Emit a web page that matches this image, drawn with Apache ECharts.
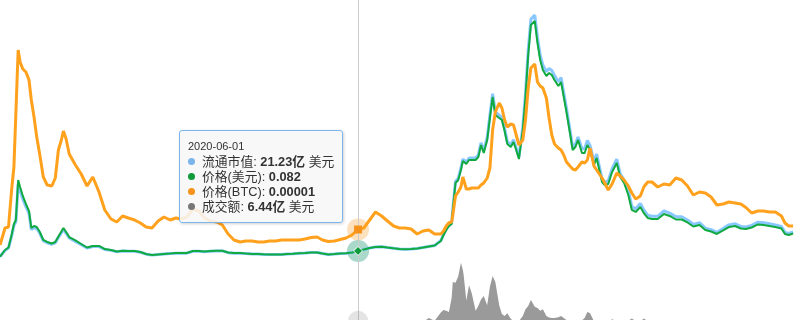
<!DOCTYPE html>
<html>
<head>
<meta charset="utf-8">
<script src="https://cdn.jsdelivr.net/npm/echarts@6/dist/echarts.min.js"></script>
<style>
html,body{margin:0;padding:0;background:#ffffff;}
#chart{width:795px;height:320px;}
</style>
</head>
<body>
<div id="chart"></div>
<script>
// ---- data ----
const dates = [
'2017-11-18','2017-12-01','2017-12-10','2017-12-18','2017-12-24','2017-12-29','2018-01-04','2018-01-09','2018-01-16','2018-01-24',
'2018-02-01','2018-02-07','2018-02-14','2018-02-21','2018-03-01','2018-03-10','2018-03-20','2018-04-01','2018-04-10','2018-04-18',
'2018-04-25','2018-05-01','2018-05-08','2018-05-16','2018-06-01','2018-06-16','2018-07-01','2018-07-16','2018-08-01','2018-08-16',
'2018-09-01','2018-09-16','2018-10-01','2018-10-16','2018-11-01','2018-11-16','2018-12-01','2018-12-16','2019-01-01','2019-01-16',
'2019-02-01','2019-02-16','2019-03-01','2019-03-16','2019-04-01','2019-04-16','2019-05-01','2019-05-16','2019-06-01','2019-06-16',
'2019-07-01','2019-07-16','2019-08-01','2019-08-16','2019-09-01','2019-09-16','2019-10-01','2019-10-16','2019-11-01','2019-11-16',
'2019-12-01','2019-12-16','2020-01-01','2020-01-16','2020-02-01','2020-02-16','2020-03-01','2020-03-16','2020-04-01','2020-04-16',
'2020-05-01','2020-05-16','2020-06-01','2020-06-16','2020-07-01','2020-07-16','2020-08-01','2020-08-16','2020-09-01','2020-09-16',
'2020-10-01','2020-10-16','2020-11-01','2020-11-16','2020-12-01','2020-12-16','2021-01-01','2021-01-08','2021-01-15','2021-01-22',
'2021-01-29','2021-02-01','2021-02-08','2021-02-15','2021-02-22','2021-02-27','2021-03-01','2021-03-08','2021-03-15','2021-03-22',
'2021-04-01','2021-04-08','2021-04-15','2021-04-22','2021-05-01','2021-05-08','2021-05-15','2021-05-22','2021-06-01','2021-06-08',
'2021-06-15','2021-06-22','2021-07-01','2021-07-08','2021-07-15','2021-07-22','2021-08-01','2021-08-08','2021-08-15','2021-08-22',
'2021-09-01','2021-09-08','2021-09-15','2021-09-22','2021-10-01','2021-10-08','2021-10-15','2021-10-22','2021-11-01','2021-11-08',
'2021-11-15','2021-11-22','2021-12-01','2021-12-08','2021-12-15','2021-12-22','2022-01-01','2022-01-08','2022-01-15','2022-01-22',
'2022-02-01','2022-02-08','2022-02-15','2022-02-22','2022-03-01','2022-03-10','2022-03-20','2022-04-01','2022-04-10','2022-04-20',
'2022-05-01','2022-05-10','2022-05-20','2022-06-01','2022-06-10','2022-06-20','2022-07-01','2022-07-16','2022-08-01','2022-08-16',
'2022-09-01','2022-09-16','2022-10-01','2022-10-16','2022-11-01','2022-11-16','2022-12-01','2022-12-16','2023-01-01','2023-01-16',
'2023-02-01','2023-02-16','2023-03-01','2023-03-16','2023-04-01','2023-04-16','2023-05-01','2023-05-16','2023-06-01','2023-06-10',
'2023-06-20','2023-07-01','2023-07-06'
];

// 流通市值 (亿 美元)
const marketCap = [
2.47,23.16,30.88,69.47,103.43,115.78,239.28,217.67,189.88,165.18,
143.57,91.08,97.26,94.17,78.73,54.03,47.86,43.23,47.86,64.84,
78.73,91.08,78.73,63.29,52.49,41.68,30.88,35.51,35.51,26.24,
23.16,18.53,21.00,20.07,20.07,16.98,10.81,7.72,9.46,11.03,
12.61,14.19,14.19,14.19,20.49,20.49,18.92,20.49,21.44,21.44,
15.76,14.19,14.19,12.61,11.03,11.03,10.09,9.46,9.46,9.46,
11.03,11.98,13.65,14.63,16.25,16.25,13.00,9.75,11.38,13.00,
13.65,16.25,21.23,26.00,30.88,34.13,35.10,32.50,29.90,27.63,
26.65,27.63,29.25,32.50,35.75,39.00,54.70,74.59,91.16,104.42,
111.05,157.46,246.97,256.91,290.06,319.90,323.21,309.95,323.21,323.21,
323.21,333.16,372.94,346.42,389.51,462.44,532.06,472.39,462.44,455.81,
419.35,376.25,366.31,382.88,356.36,326.53,422.66,532.06,671.29,774.50,
787.80,714.50,657.90,624.60,604.60,614.60,607.90,591.30,571.30,584.60,
534.70,484.70,414.70,358.10,368.10,391.40,353.20,353.20,380.25,363.35,
312.65,336.31,295.75,255.19,245.05,248.43,288.99,319.41,272.09,251.81,
217.34,165.18,158.23,175.61,154.75,137.36,133.88,133.88,151.27,144.32,
132.14,132.14,121.71,107.80,113.02,95.63,90.42,81.72,93.89,106.06,
109.54,100.85,99.11,104.33,114.76,113.02,109.54,106.06,100.85,81.72,
78.24,83.46,84.16
];

// 价格 (美元)
const priceUsd = [
0.010,0.094,0.125,0.281,0.419,0.469,0.969,0.881,0.769,0.669,
0.581,0.369,0.394,0.381,0.319,0.219,0.194,0.175,0.194,0.263,
0.319,0.369,0.319,0.256,0.213,0.169,0.125,0.144,0.144,0.106,
0.094,0.075,0.085,0.081,0.081,0.069,0.044,0.031,0.038,0.044,
0.050,0.056,0.056,0.056,0.081,0.081,0.075,0.081,0.085,0.085,
0.063,0.056,0.056,0.050,0.044,0.044,0.040,0.038,0.038,0.038,
0.044,0.048,0.053,0.056,0.063,0.063,0.050,0.038,0.044,0.050,
0.053,0.063,0.082,0.100,0.119,0.131,0.135,0.125,0.115,0.106,
0.103,0.106,0.113,0.125,0.138,0.150,0.206,0.281,0.344,0.394,
0.419,0.594,0.931,0.969,1.094,1.206,1.219,1.169,1.219,1.219,
1.219,1.256,1.406,1.306,1.469,1.744,2.006,1.781,1.744,1.719,
1.581,1.419,1.381,1.444,1.344,1.231,1.594,2.006,2.531,2.906,
2.956,2.681,2.469,2.344,2.269,2.306,2.281,2.219,2.144,2.194,
2.006,1.819,1.556,1.344,1.381,1.469,1.306,1.306,1.406,1.344,
1.156,1.244,1.094,0.944,0.906,0.919,1.069,1.181,1.006,0.931,
0.781,0.594,0.569,0.631,0.556,0.494,0.481,0.481,0.544,0.519,
0.475,0.475,0.438,0.388,0.406,0.344,0.325,0.294,0.338,0.381,
0.394,0.363,0.356,0.375,0.413,0.406,0.394,0.381,0.363,0.294,
0.281,0.300,0.303
];

// 价格 (BTC)
const priceBtc = [
0.00000375,0.00000885,0.00000915,0.00002025,0.00002715,0.00002775,0.00006225,0.00005865,0.00005655,0.00005565,
0.00005325,0.00004725,0.00004215,0.00003615,0.00003075,0.00002415,0.00002175,0.00002145,0.00002385,0.00003225,
0.00003495,0.00003795,0.00003555,0.00003105,0.00002775,0.00002505,0.00002145,0.00002415,0.00001965,0.00001425,
0.00001155,0.00001065,0.00001245,0.00001185,0.00001125,0.00001035,0.00000915,0.00000885,0.00001095,0.00001215,
0.00001125,0.00001185,0.00001155,0.00001215,0.00001455,0.00001395,0.00001185,0.00001095,0.00001065,0.00000975,
0.00000705,0.00000525,0.00000465,0.00000495,0.00000495,0.00000465,0.00000465,0.00000495,0.00000495,0.00000525,
0.00000525,0.00000525,0.00000525,0.00000555,0.00000600,0.00000615,0.00000525,0.00000480,0.00000495,0.00000540,
0.00000585,0.00000675,0.00000840,0.00000885,0.00001125,0.00001365,0.00001245,0.00001095,0.00000945,0.00000885,
0.00000885,0.00000855,0.00000705,0.00000795,0.00000825,0.00000705,0.00000705,0.00000795,0.00000945,0.00001044,
0.00001065,0.00001275,0.00001845,0.00001965,0.00002115,0.00002415,0.00002445,0.00002055,0.00002055,0.00002085,
0.00002085,0.00002085,0.00002175,0.00002235,0.00002385,0.00002685,0.00003825,0.00004365,0.00004635,0.00004485,
0.00004125,0.00003915,0.00004005,0.00003975,0.00003675,0.00003375,0.00003525,0.00004125,0.00005085,0.00005685,
0.00005805,0.00005265,0.00005145,0.00005085,0.00004785,0.00004185,0.00003675,0.00003405,0.00003285,0.00003225,
0.00003075,0.00002865,0.00002745,0.00002655,0.00002625,0.00002715,0.00002865,0.00002835,0.00002925,0.00003285,
0.00002745,0.00002625,0.00002505,0.00002385,0.00002235,0.00002025,0.00002205,0.00002535,0.00002445,0.00002325,
0.00002145,0.00001935,0.00001755,0.00001845,0.00002115,0.00002265,0.00002265,0.00002115,0.00002205,0.00002175,
0.00002385,0.00002325,0.00002145,0.00001875,0.00001965,0.00001935,0.00001815,0.00001575,0.00001605,0.00001665,
0.00001635,0.00001605,0.00001500,0.00001335,0.00001395,0.00001395,0.00001365,0.00001365,0.00001245,0.00001035,
0.00000945,0.00000945,0.00000975
];

// 成交额 (亿 美元)
const volume = [
0.5,1.5,2.5,4,5,5.5,7,6,5.5,4,
3.5,4,2.5,2,2,1.8,1.6,1.2,1.5,3,
3.5,3,2.5,2,1.5,1.2,1,1.2,1,0.8,
0.7,0.6,0.6,0.5,0.5,0.8,0.5,0.5,0.5,0.4,
0.4,0.6,0.5,0.6,1.2,1,0.8,1.2,1.3,1.1,
1,0.9,0.6,0.5,0.5,0.6,0.4,0.5,0.6,0.5,
0.4,0.4,0.4,0.9,1.4,1.6,1.1,1.3,0.9,1.1,
1.8,3.5,6.44,4.5,2.5,4.5,5,4.5,5.5,3.5,
2.5,2.2,2.5,5,10,6.5,17,20,19,17.5,
35,55,54,62,79,70,64,32,51,41,
19,25,33,37.5,26,49,62.5,55,26,15,
12.5,16,9,6,5,6,12.5,21,25,32.5,
24,22.5,19,21,12.5,10.5,10,10,11,12.5,
10,7.5,7,6,6,6,7,10,17.5,16,
6,6,6,5.5,6.5,5,8.5,6,5.5,5,
6.5,9.5,6,5.5,9.5,6,5,4.5,4.5,4,
4.5,4,3.5,3.5,4.5,4,3,3,3,4,
4.5,4,3.5,3.5,3.5,3,3,2.5,2.5,4,
3,3,3
];

const seriesNames = ['流通市值', '价格(美元)', '价格(BTC)', '成交额'];
const seriesColors = ['#7cb5ec', '#0f9b3b', '#f7931a', '#777777'];
const focusDate = '2020-06-01';

// ---- chart ----
const chart = echarts.init(document.getElementById('chart'), null, { renderer: 'canvas' });
const pairs = arr => dates.map((d, i) => [d, arr[i]]);
const fi = dates.indexOf(focusDate);

function halo(color, value, size) {
  return {
    silent: true,
    animation: false,
    z: 1,
    symbol: 'circle',
    symbolSize: size,
    label: { show: false },
    itemStyle: { color: color },
    emphasis: { disabled: true },
    data: [{ coord: [focusDate, value] }]
  };
}

const FONT = "'Liberation Sans','Noto Sans CJK SC',Arial,sans-serif";

function fmtRow(i, label, strong, unit) {
  return '<div style="font-size:12.8px;line-height:15px;white-space:nowrap;color:#333;">' +
    '<span style="display:inline-block;width:7px;height:7px;border-radius:50%;background:' + seriesColors[i] +
    ';margin-right:7px;vertical-align:1px;"></span>' +
    label + ': <b>' + strong + '</b>' + unit + '</div>';
}

const pointerLine = { color: '#cccccc', width: 1, type: 'solid' };

const option = {
  animation: false,
  backgroundColor: '#ffffff',
  grid: { left: 0, right: 0, top: 0, bottom: 0, containLabel: false },
  xAxis: {
    type: 'time',
    min: '2017-11-18',
    max: '2023-07-06',
    show: false,
    axisPointer: { show: true, type: 'line', z: 1, lineStyle: pointerLine, label: { show: false } }
  },
  yAxis: [
    { type: 'value', show: false, min: -203.125, max: 836.875, splitLine: { show: false } },
    { type: 'value', show: false, min: -0.78125, max: 3.21875, splitLine: { show: false } },
    { type: 'value', show: false, min: -0.00001875, max: 0.00007725, splitLine: { show: false } },
    { type: 'value', show: false, min: 7.5, max: 407.5, splitLine: { show: false } }
  ],
  tooltip: {
    trigger: 'axis',
    alwaysShowContent: true,
    transitionDuration: 0,
    backgroundColor: 'rgba(247,247,247,0.88)',
    borderColor: '#7cb5ec',
    borderWidth: 1,
    borderRadius: 3,
    padding: [8, 8, 8, 8],
    extraCssText: 'box-shadow:1px 1px 3px rgba(0,0,0,0.18);font-family:' + FONT + ';',
    axisPointer: { type: 'line', z: 1, lineStyle: pointerLine, animation: false },
    position: function (point, params, dom, rect, size) {
      return [point[0] - size.contentSize[0] - 15, 130];
    },
    formatter: function (params) {
      const p = params.find(q => q.seriesType === 'line') || params[0];
      const i = p.dataIndex;
      return '<div style="font-family:' + FONT + ';">' +
        '<div style="font-size:11px;line-height:14px;margin-bottom:1px;color:#333;">' + dates[i] + '</div>' +
        fmtRow(0, seriesNames[0], marketCap[i].toFixed(2) + '亿', ' 美元') +
        fmtRow(1, seriesNames[1], priceUsd[i].toFixed(3), '') +
        fmtRow(2, seriesNames[2], priceBtc[i].toFixed(5), '') +
        fmtRow(3, seriesNames[3], volume[i].toFixed(2) + '亿', ' 美元') +
        '</div>';
    }
  },
  series: [
    {
      name: seriesNames[3], type: 'line', xAxisIndex: 0, yAxisIndex: 3,
      data: pairs(volume), showSymbol: false, symbol: 'circle', symbolSize: 6,
      color: seriesColors[3],
      lineStyle: { width: 0 },
      areaStyle: { color: '#9a9a9a', opacity: 1 },
      emphasis: { scale: false, lineStyle: { width: 0 }, areaStyle: { color: '#9a9a9a', opacity: 1 } },
      z: 2
    },
    {
      name: seriesNames[0], type: 'line', xAxisIndex: 0, yAxisIndex: 0,
      data: pairs(marketCap), showSymbol: false, symbol: 'none',
      color: seriesColors[0],
      lineStyle: { width: 3, color: seriesColors[0] },
      emphasis: { scale: false, lineStyle: { width: 3 } },
      markPoint: halo('rgba(124,181,236,0.25)', marketCap[fi], 22),
      z: 3
    },
    {
      name: seriesNames[1], type: 'line', xAxisIndex: 0, yAxisIndex: 1,
      data: pairs(priceUsd), showSymbol: false, symbol: 'diamond', symbolSize: 9,
      color: seriesColors[1],
      itemStyle: { color: seriesColors[1], borderColor: '#ffffff', borderWidth: 1 },
      lineStyle: { width: 2, color: seriesColors[1] },
      emphasis: { scale: false, lineStyle: { width: 2 } },
      markPoint: halo('rgba(15,155,59,0.25)', priceUsd[fi], 22),
      z: 4
    },
    {
      name: seriesNames[2], type: 'line', xAxisIndex: 0, yAxisIndex: 2,
      data: pairs(priceBtc), showSymbol: false, symbol: 'rect', symbolSize: 8,
      color: seriesColors[2],
      itemStyle: { color: seriesColors[2] },
      lineStyle: { width: 3, color: seriesColors[2] },
      emphasis: { scale: false, lineStyle: { width: 3 } },
      markPoint: halo('rgba(247,147,26,0.28)', priceBtc[fi], 22),
      z: 5
    },
    {
      name: 'volumeHalo', type: 'scatter', xAxisIndex: 0, yAxisIndex: 3,
      data: [[focusDate, volume[fi]]],
      symbol: 'circle', symbolSize: 20, clip: false, silent: true,
      tooltip: { show: false },
      itemStyle: { color: 'rgba(119,119,119,0.25)' },
      emphasis: { disabled: true },
      z: 1
    }
  ]
};

chart.setOption(option);

function showFocus() {
  chart.dispatchAction({ type: 'showTip', seriesIndex: 2, dataIndex: fi });
}
showFocus();
setTimeout(showFocus, 50);
</script>
</body>
</html>
